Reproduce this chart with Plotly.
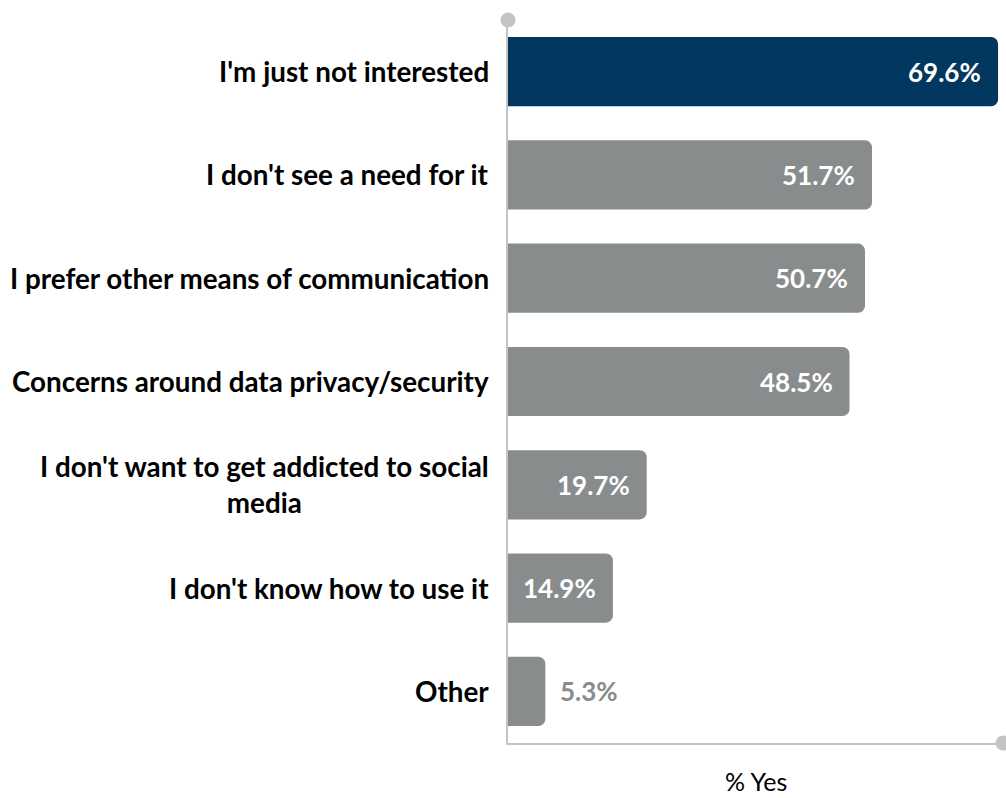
import plotly.graph_objects as go

categories = [
    "I'm just not interested",
    "I don't see a need for it",
    "I prefer other means of communication",
    "Concerns around data privacy/security",
    "I don't want to get addicted to social<br>media",
    "I don't know how to use it",
    "Other",
]
values = [69.6, 51.7, 50.7, 48.5, 19.7, 14.9, 5.3]
value_labels = ["69.6%", "51.7%", "50.7%", "48.5%", "19.7%", "14.9%", "5.3%"]
axis_title = "% Yes"

NAVY = "#02375F"
GRAY = "#898C8D"
AXIS = "#C4C4C4"
FONT = "Lato, 'Open Sans', sans-serif"

ypos = list(range(len(categories)))
colors = [NAVY] + [GRAY] * (len(categories) - 1)
x_max = 70.3

fig = go.Figure()
fig.add_trace(go.Bar(
    x=values, y=ypos, orientation="h",
    marker=dict(color=colors, line=dict(width=0)),
    width=0.67, hoverinfo="skip",
))

# axis end markers
fig.add_trace(go.Scatter(
    x=[0, x_max], y=[-0.5, len(categories) - 0.5], mode="markers",
    marker=dict(color=AXIS, size=15), cliponaxis=False, hoverinfo="skip",
))

annotations = []
for i, (cat, v, lab) in enumerate(zip(categories, values, value_labels)):
    annotations.append(dict(
        x=0, y=i, xref="x", yref="y", text=f"<b>{cat}</b>",
        xanchor="right", yanchor="middle", align="center", xshift=-17,
        showarrow=False, font=dict(family=FONT, size=27.8, color="#000000"),
    ))
    inside = v > 10
    annotations.append(dict(
        x=v, y=i, xref="x", yref="y", text=f"<b>{lab}</b>",
        xanchor="right" if inside else "left",
        xshift=-15 if inside else 13, yanchor="middle",
        showarrow=False,
        font=dict(family=FONT, size=26, color="#FFFFFF" if inside else GRAY),
    ))
annotations.append(dict(
    x=0.5, y=0, xref="paper", yref="paper", yshift=-38, text=axis_title,
    xanchor="center", yanchor="middle", showarrow=False,
    font=dict(family=FONT, size=25, color="#000000"),
))

fig.update_layout(
    width=1006, height=798,
    margin=dict(l=508, r=3, t=20, b=55),
    paper_bgcolor="white", plot_bgcolor="white",
    barcornerradius=7, showlegend=False,
    annotations=annotations,
    xaxis=dict(range=[0, x_max], showgrid=False, zeroline=False,
               showticklabels=False, showline=True, linecolor=AXIS,
               linewidth=2, fixedrange=True),
    yaxis=dict(range=[len(categories) - 0.5, -0.5], showgrid=False,
               zeroline=False, showticklabels=False, showline=True,
               linecolor=AXIS, linewidth=2, fixedrange=True),
)

fig.write_html("out.html")
